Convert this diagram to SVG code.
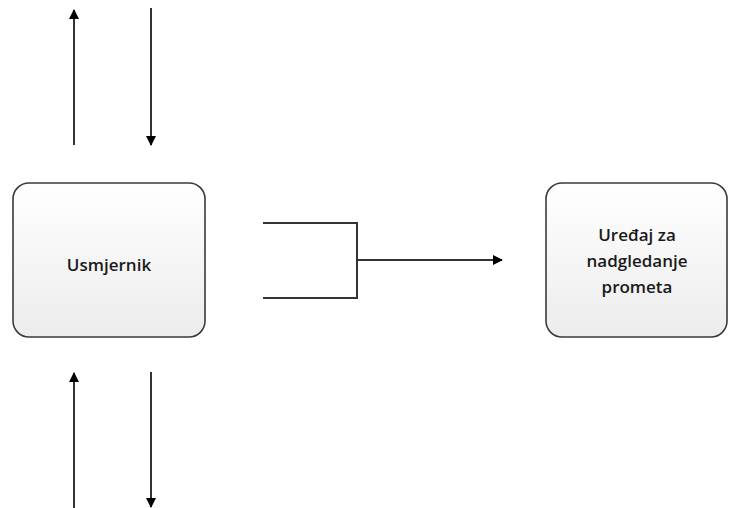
<svg xmlns="http://www.w3.org/2000/svg" width="729" height="508" viewBox="0 0 729 508">
<style>
.box{fill:url(#g);stroke:#3a3a3a;stroke-width:1.6}
.lbl{font-family:"Open Sans","Noto Sans",sans-serif;font-size:17px;font-weight:600;fill:#1a1a1a;text-anchor:middle}
.ln{stroke:#333;stroke-width:2;fill:none}
</style>
<defs>
<linearGradient id="g" x1="0" y1="0" x2="0" y2="1">
<stop offset="0" stop-color="#ffffff"/>
<stop offset="1" stop-color="#ececec"/>
</linearGradient>
<marker id="ah" markerWidth="10" markerHeight="10" refX="9" refY="5" orient="auto" markerUnits="userSpaceOnUse">
<path d="M0,0 L10,5 L0,10 z" fill="#000"/>
</marker>
</defs>
<g id="usmjernik">
<rect class="box" x="13" y="183" width="192" height="154" rx="16"/>
<text class="lbl" x="109" y="271">Usmjernik</text>
</g>
<g id="uredjaj">
<rect class="box" x="546" y="183" width="181" height="154" rx="16"/>
<text class="lbl" x="637" y="241">Uređaj za</text>
<text class="lbl" x="637" y="267">nadgledanje</text>
<text class="lbl" x="637" y="293">prometa</text>
</g>
<g id="connectors">
<line class="ln" x1="74" y1="145" x2="74" y2="10" marker-end="url(#ah)"/>
<line class="ln" x1="151" y1="8" x2="151" y2="145" marker-end="url(#ah)"/>
<line class="ln" x1="74" y1="508" x2="74" y2="373" marker-end="url(#ah)"/>
<line class="ln" x1="151" y1="372" x2="151" y2="507" marker-end="url(#ah)"/>
<path class="ln" d="M263,223 H357 V298 H263"/>
<line class="ln" x1="357" y1="260" x2="502" y2="260" marker-end="url(#ah)"/>
</g>
</svg>
